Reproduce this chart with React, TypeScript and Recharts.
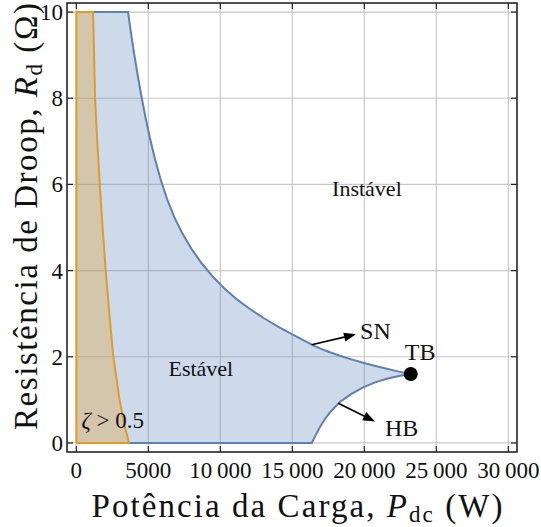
import {
  ComposedChart,
  Area,
  XAxis,
  YAxis,
  CartesianGrid,
  ReferenceArea,
  ReferenceDot,
  ReferenceLine,
  Label,
} from "recharts";

const SERIF = '"Liberation Serif", "Times New Roman", serif';
const BLUE = "#5E81B5";
const ORANGE = "#E19C24";

const FRAME = { left: 67, right: 517, top: 3, bottom: 452 };

const xTicks = [0, 5000, 10000, 15000, 20000, 25000, 30000];
const yTicks = [0, 2, 4, 6, 8, 10];

// stable region: lower bound is 0 then the HB curve, upper bound is 10 then the SN curve
const stablePower = [
  0, 3590, 3800, 4000, 4250, 4520, 4800, 5100, 5450, 5850, 6300, 6800, 7300, 8000,
  8700, 9500, 10300, 11200, 12000, 13000, 14000, 15000, 16350, 16600, 16920, 17250,
  17610, 18300, 19100, 19920, 20700, 21550, 22400, 23220,
];
const stableUpper = [
  10, 10, 9.5, 9.06, 8.55, 8.04, 7.56, 7.09, 6.6, 6.12, 5.66, 5.24, 4.9, 4.5,
  4.17, 3.85, 3.58, 3.32, 3.12, 2.9, 2.7, 2.52, 2.28, 2.24, 2.195, 2.15,
  2.105, 2.025, 1.94, 1.86, 1.79, 1.72, 1.655, 1.6,
];
const stableLower = [
  0, 0, 0, 0, 0, 0, 0, 0, 0, 0, 0, 0, 0, 0,
  0, 0, 0, 0, 0, 0, 0, 0, 0, 0.17, 0.37, 0.55,
  0.71, 0.95, 1.14, 1.29, 1.4, 1.49, 1.555, 1.6,
];

// zeta > 0.5 region
const dampedPower = [0, 0, 1160, 1300, 1450, 1625, 1820, 2040, 2290, 2550, 3000, 3360, 3665];
const dampedUpper = [0, 10, 10, 8.0, 7.0, 6.0, 5.0, 4.0, 3.0, 2.05, 1.0, 0.38, 0];

const tbPoint = { x: 23220, y: 1.6 };

const arrows = [
  { from: { x: 16340, y: 2.28 }, to: { x: 19420, y: 2.52 } },
  { from: { x: 18190, y: 0.92 }, to: { x: 20740, y: 0.5 } },
];

const notes = [
  { x: 20180, y: 5.9, text: "Instável", size: 22 },
  { x: 8645, y: 1.72, text: "Estável", size: 22 },
  { x: 20770, y: 2.6, text: "SN", size: 24 },
  { x: 23870, y: 2.11, text: "TB", size: 24 },
  { x: 22590, y: 0.35, text: "HB", size: 24 },
];

const stableData = stablePower.map((x, i) => ({ x, r: [stableLower[i], stableUpper[i]] }));
const dampedData = dampedPower.map((x, i) => ({ x, r: [0, dampedUpper[i]] }));

function fmt(v: number) {
  return v >= 10000 ? `${Math.floor(v / 1000)}\u2009${String(v % 1000).padStart(3, "0")}` : String(v);
}

function XTick(props: any) {
  const { x, payload } = props;
  return (
    <g>
      <line x1={x} x2={x} y1={FRAME.bottom} y2={FRAME.bottom - 6} stroke="#222" strokeWidth={1.2} />
      <line x1={x} x2={x} y1={FRAME.top} y2={FRAME.top + 6} stroke="#222" strokeWidth={1.2} />
      <text x={x} y={FRAME.bottom + 26} textAnchor="middle" fontFamily={SERIF} fontSize={23} fill="#111">
        {fmt(payload.value)}
      </text>
    </g>
  );
}

function YTick(props: any) {
  const { y, payload } = props;
  return (
    <g>
      <line x1={FRAME.left} x2={FRAME.left + 6} y1={y} y2={y} stroke="#222" strokeWidth={1.2} />
      <line x1={FRAME.right} x2={FRAME.right - 6} y1={y} y2={y} stroke="#222" strokeWidth={1.2} />
      <text x={FRAME.left - 4} y={y + 8} textAnchor="end" fontFamily={SERIF} fontSize={23} fill="#111">
        {payload.value}
      </text>
    </g>
  );
}

function ArrowShape(props: any) {
  const { x1, y1, x2, y2 } = props;
  const dx = x2 - x1;
  const dy = y2 - y1;
  const len = Math.sqrt(dx * dx + dy * dy);
  const ux = dx / len;
  const uy = dy / len;
  const hl = 12;
  const hw = 4.5;
  const bx = x2 - ux * hl;
  const by = y2 - uy * hl;
  return (
    <g>
      <line x1={x1} y1={y1} x2={bx + ux * 2} y2={by + uy * 2} stroke="#000" strokeWidth={1.6} />
      <polygon
        points={`${x2},${y2} ${bx - uy * hw},${by + ux * hw} ${bx + uy * hw},${by - ux * hw}`}
        fill="#000"
      />
    </g>
  );
}

export default function App() {
  return (
    <div style={{ position: "absolute", left: 0, top: 0 }}>
      <ComposedChart
        width={541}
        height={527}
        margin={{ top: FRAME.top, right: 541 - FRAME.right, bottom: 527 - FRAME.bottom - 1, left: FRAME.left - 1 }}
      >
        <CartesianGrid stroke="#c8c8c8" strokeWidth={1.2} />
        <XAxis
          type="number"
          dataKey="x"
          domain={[-650, 30600]}
          ticks={xTicks}
          interval={0}
          allowDataOverflow
          height={1}
          tickSize={0}
          tickMargin={0}
          axisLine={false}
          tickLine={false}
          tick={<XTick />}
        >
          <Label
            content={() => (
              <text
                x={297}
                y={517}
                textAnchor="middle"
                fontFamily={SERIF}
                fontSize={33}
                fill="#111"
                textLength={411}
                lengthAdjust="spacing"
              >
                Potência da Carga,{" "}
                <tspan fontStyle="italic">P</tspan>
                <tspan fontSize={23} dy={5}>dc</tspan>
                <tspan dy={-5}> (W)</tspan>
              </text>
            )}
          />
        </XAxis>
        <YAxis
          type="number"
          domain={[-0.21, 10.21]}
          ticks={yTicks}
          interval={0}
          allowDataOverflow
          width={1}
          tickSize={0}
          tickMargin={0}
          axisLine={false}
          tickLine={false}
          tick={<YTick />}
        >
          <Label
            content={() => (
              <text
                transform="translate(37,216.5) rotate(-90)"
                textAnchor="middle"
                fontFamily={SERIF}
                fontSize={33}
                fill="#111"
                textLength={427}
                lengthAdjust="spacing"
              >
                Resistência de Droop,{" "}
                <tspan fontStyle="italic">R</tspan>
                <tspan fontSize={23} dy={5}>d</tspan>
                <tspan dy={-5}> (Ω)</tspan>
              </text>
            )}
          />
        </YAxis>
        <Area
          data={stableData}
          dataKey="r"
          type="linear"
          stroke={BLUE}
          strokeWidth={2}
          fill={BLUE}
          fillOpacity={0.3}
          isAnimationActive={false}
          dot={false}
          activeDot={false}
        />
        <Area
          data={dampedData}
          dataKey="r"
          type="linear"
          stroke={ORANGE}
          strokeWidth={2}
          fill={ORANGE}
          fillOpacity={0.3}
          isAnimationActive={false}
          dot={false}
          activeDot={false}
        />
        {arrows.map((a, i) => (
          <ReferenceLine key={i} segment={[a.from, a.to]} shape={<ArrowShape />} ifOverflow="visible" />
        ))}
        <ReferenceDot x={tbPoint.x} y={tbPoint.y} r={7} fill="#000" stroke="none" />
        {notes.map((n) => (
          <ReferenceDot
            key={n.text}
            x={n.x}
            y={n.y}
            r={0}
            shape={(p: any) => (
              <text
                x={p.cx}
                y={p.cy + n.size * 0.33}
                textAnchor="middle"
                fontFamily={SERIF}
                fontSize={n.size}
                fill="#111"
              >
                {n.text}
              </text>
            )}
          />
        ))}
        <ReferenceDot
          x={2530}
          y={0.51}
          r={0}
          shape={(p: any) => (
            <text x={p.cx} y={p.cy + 7} textAnchor="middle" fontFamily={SERIF} fontSize={23} fill="#111">
              <tspan fontStyle="italic">ζ</tspan> &gt; 0.5
            </text>
          )}
        />
        <ReferenceArea
          x1={-650}
          x2={30600}
          y1={-0.21}
          y2={10.21}
          fill="none"
          stroke="#222"
          strokeWidth={1.5}
          ifOverflow="visible"
        />
      </ComposedChart>
    </div>
  );
}
